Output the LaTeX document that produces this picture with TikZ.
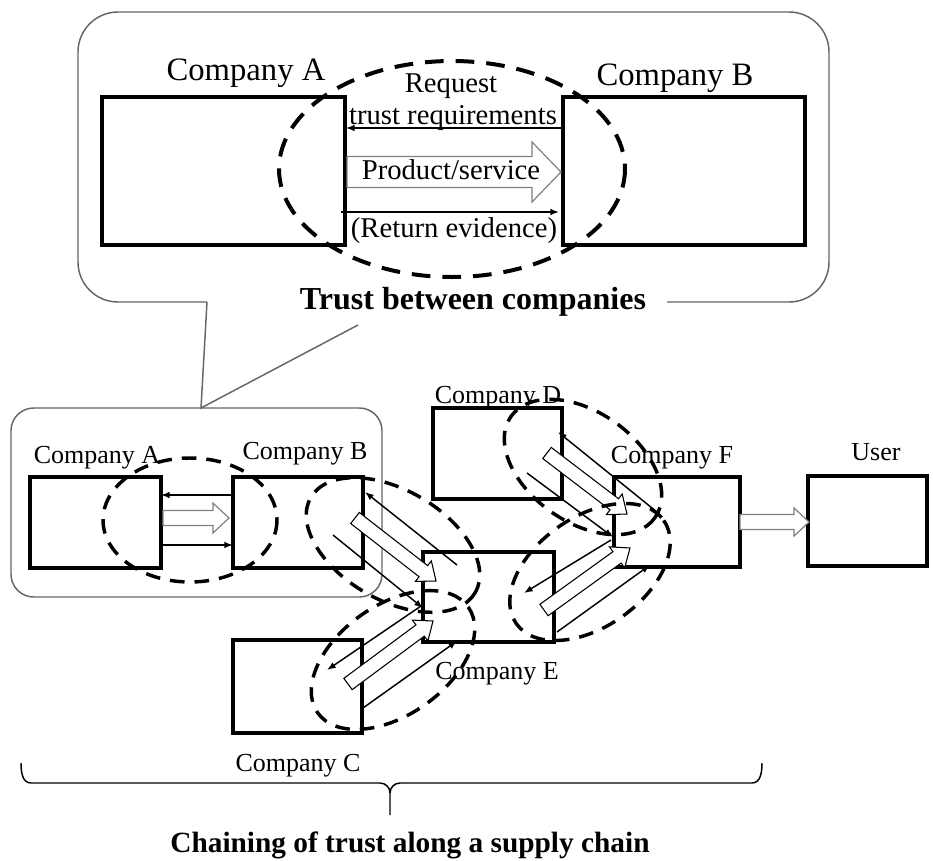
\documentclass[tikz,border=0pt]{standalone}
\usepackage{fontspec}
\setmainfont{Liberation Serif}
\usetikzlibrary{arrows.meta,calc,fit}

% block arrow: [style]{tail}{tip}{shaft half-width}{head half-width}{head length}
\newcommand\blockarrow[6][]{%
  \coordinate (ba-q) at ($(#3)!#6!(#2)$);
  \draw[blockarr,#1] ($(#2)!#4!90:(#3)$) -- ($(ba-q)!#4!90:(#3)$)
    -- ($(ba-q)!#5!90:(#3)$) -- (#3) -- ($(ba-q)!#5!-90:(#3)$)
    -- ($(ba-q)!#4!-90:(#3)$) -- ($(#2)!#4!-90:(#3)$) -- cycle;}

\begin{document}
\begin{tikzpicture}[x=0.75pt,y=-0.75pt,
  box/.style={draw, line width=2.5pt, inner sep=0pt},
  bigbox/.style={draw, line width=2.7pt, inner sep=0pt},
  callout/.style={draw=black!60, line width=1.1pt},
  thinarr/.style={line width=1.1pt, -{Latex[length=6.5pt,width=5pt]}},
  ringbig/.style={line width=3pt, dash pattern=on 14pt off 9pt},
  ring/.style={line width=2.6pt, dash pattern=on 11pt off 7.5pt},
  blockarr/.style={draw=black, line width=0.8pt, fill=white, line join=miter},
  greyblock/.style={draw=black!50, line width=0.9pt},
  lbl/.style={anchor=base, inner sep=0pt, font=\fontsize{19.5}{22}\selectfont},
  toplbl/.style={anchor=base, inner sep=0pt, font=\fontsize{24.5}{28}\selectfont},
  midlbl/.style={anchor=base, inner sep=0pt, font=\fontsize{21.5}{25}\selectfont},
  title/.style={anchor=base, inner sep=0pt, font=\bfseries\fontsize{24}{28}\selectfont},
]
\useasboundingbox (0,0) rectangle (933,861);

% ---------- callout frames ----------
\draw[callout, rounded corners=30pt] (667,302) -- (829,302) -- (829,12)
  -- (78,12) -- (78,302) -- (207,302);
\draw[callout] (207,302) -- (201,408) -- (358,325);
\node[callout, rounded corners=17pt, inner sep=0pt, fit={(11,408)(382,597)}] (frame) {};

% ---------- trust between two companies ----------
\node[bigbox, fit={(102,97)(345,245)}] (tA) {};
\node[bigbox, fit={(563,97)(805,245)}] (tB) {};
\node[toplbl] (tAl) at (246,80) {Company A};
\node[toplbl] (tBl) at (675,85) {Company B};
\node[midlbl] (rq1) at (451,92) {Request};
\node[midlbl] (rq2) at (453,124) {trust requirements};

\coordinate (trqS) at (563,128); \coordinate (trqE) at (346,128);
\draw[thinarr] (trqS) -- (trqE);
\coordinate (tpsT) at (347,172); \coordinate (tpsP) at (561,172);
\blockarrow[greyblock]{tpsT}{tpsP}{11.6pt}{22.5pt}{21.75pt}
\node[midlbl] (ps) at (451,179) {Product/service};
\coordinate (tevS) at (341,212); \coordinate (tevE) at (559,212);
\draw[thinarr] (tevS) -- (tevE);
\node[midlbl] (re) at (454,237) {(Return evidence)};
\draw[ringbig] (452,169) ellipse [x radius=173, y radius=108];
\node[title] (ttl) at (473,309) {Trust between companies};

% ---------- supply chain ----------
\node[box, fit={(30,477)(161,568)}] (A) {};
\node[box, fit={(233,477)(363,568)}] (B) {};
\node[box, fit={(433,408)(562,499)}] (D) {};
\node[box, fit={(423,552)(554,642)}] (E) {};
\node[box, fit={(614,477)(740,567)}] (F) {};
\node[box, fit={(808,476)(927,566)}] (U) {};
\node[box, fit={(233,640)(362,733)}] (C) {};

\node[lbl] (Al) at (97,463) {Company A};
\node[lbl] (Bl) at (305,459) {Company B};
\node[lbl] (Dl) at (498,403) {Company D};
\node[lbl] (Fl) at (672,463) {Company F};
\node[lbl] (Ul) at (876,460) {User};
\node[lbl] (El) at (497,679) {Company E};
\node[lbl] (Cl) at (298,771) {Company C};

% A -- B
\coordinate (abR1) at (233,495); \coordinate (abR2) at (161,495);
\draw[thinarr] (abR1) -- (abR2);
\coordinate (abP1) at (163,518); \coordinate (abP2) at (229,518);
\blockarrow[greyblock]{abP1}{abP2}{5.6pt}{11.2pt}{12pt}
\coordinate (abE1) at (161,545); \coordinate (abE2) at (233,545);
\draw[thinarr] (abE1) -- (abE2);

% B -- E
\coordinate (beR1) at (457,565); \coordinate (beR2) at (365,492);
\draw[thinarr] (beR1) -- (beR2);
\coordinate (beP1) at (355,518); \coordinate (beP2) at (436,581);
\blockarrow{beP1}{beP2}{5.25pt}{9.75pt}{12pt}
\coordinate (beE1) at (333,535); \coordinate (beE2) at (423,608);
\draw[thinarr] (beE1) -- (beE2);

% D -- F
\coordinate (dfR1) at (657,512); \coordinate (dfR2) at (558,432);
\draw[thinarr] (dfR1) -- (dfR2);
\coordinate (dfP1) at (547,453); \coordinate (dfP2) at (627,514);
\blockarrow{dfP1}{dfP2}{5.25pt}{9.75pt}{12pt}
\coordinate (dfE1) at (527,473); \coordinate (dfE2) at (613,537);
\draw[thinarr] (dfE1) -- (dfE2);

% E -- F
\coordinate (efR1) at (611,540); \coordinate (efR2) at (524,593);
\draw[thinarr] (efR1) -- (efR2);
\coordinate (efP1) at (544,610); \coordinate (efP2) at (630,548);
\blockarrow{efP1}{efP2}{5.25pt}{9.75pt}{12pt}
\coordinate (efE1) at (557,632); \coordinate (efE2) at (650,565);
\draw[thinarr] (efE1) -- (efE2);

% C -- E
\coordinate (ceR1) at (421,606); \coordinate (ceR2) at (327,670);
\draw[thinarr] (ceR1) -- (ceR2);
\coordinate (ceP1) at (348,684); \coordinate (ceP2) at (433,621);
\blockarrow{ceP1}{ceP2}{5.25pt}{9.75pt}{12pt}
\coordinate (ceE1) at (363,708); \coordinate (ceE2) at (457,641);
\draw[thinarr] (ceE1) -- (ceE2);

% F -- User
\coordinate (fuP1) at (740,522); \coordinate (fuP2) at (809,522);
\blockarrow[greyblock]{fuP1}{fuP2}{5.6pt}{10.5pt}{11.2pt}

% trust rings
\draw[ring] (190,520) ellipse [x radius=87, y radius=62];
\draw[ring, rotate around={-30:(393,545)}] (393,545) ellipse [x radius=95, y radius=55];
\draw[ring, rotate around={-35:(583,467)}] (583,467) ellipse [x radius=88, y radius=55];
\draw[ring, rotate around={35:(590,572)}] (590,572) ellipse [x radius=90, y radius=55];
\draw[ring, rotate around={35:(393,660)}] (393,660) ellipse [x radius=92, y radius=55];

% brace and caption
\draw[line width=1.1pt] (21,763) to[out=-90,in=180] (31,783) -- (380,783)
  to[out=0,in=90] (390,793) -- (390,815);
\draw[line width=1.1pt] (390,793) to[out=90,in=180] (400,783) -- (752,783)
  to[out=0,in=-90] (762,763);
\node[title, font=\bfseries\fontsize{22}{26}\selectfont] (cap) at (410,852)
  {Chaining of trust along a supply chain};
\end{tikzpicture}
\end{document}
